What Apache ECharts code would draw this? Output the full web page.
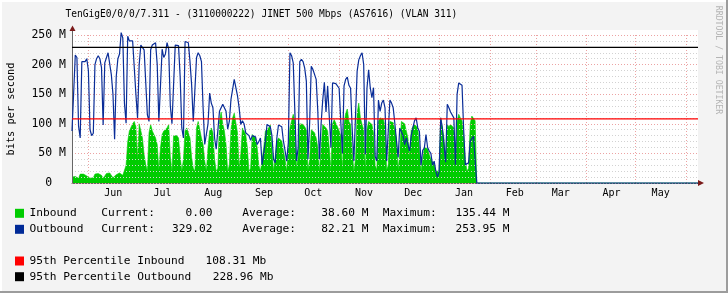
<!DOCTYPE html>
<html><head><meta charset="utf-8">
<script src="https://cdn.jsdelivr.net/npm/echarts@6/dist/echarts.min.js"></script>
<style>html,body{margin:0;padding:0;background:#f3f3f3}#c{width:728px;height:293px}</style>
</head><body><div id="c"></div>
<script>
// ---- data (Mbit/s, one value per day starting at startDate) ----
const startDate = '2022-05-22';
const endDate = '2023-06-08';
const monthStarts = ['2022-06-01','2022-07-01','2022-08-01','2022-09-01','2022-10-01','2022-11-01','2022-12-01','2023-01-01','2023-02-01','2023-03-01','2023-04-01','2023-05-01','2023-06-01'];
const monthLabels = ['Jan','Feb','Mar','Apr','May','Jun','Jul','Aug','Sep','Oct','Nov','Dec'];
const yTicks = [0, 50, 100, 150, 200, 250];
const inbound = [
10,11,11,12,8,15,17,15,14,12,
9,8,7,9,15,17,16,15,13,8,
12,16,15,17,13,9,8,14,16,17,
16,13,10,30,70,88,85,100,104,95,
40,100,99,76,48,31,20,85,99,88,
82,76,65,22,60,82,88,88,93,99,
45,20,80,82,80,76,45,20,40,88,
93,90,76,43,25,20,93,104,90,76,
65,37,20,60,88,93,85,40,20,25,
104,120,100,88,65,20,30,90,110,118,
115,85,25,50,93,88,82,60,20,25,
82,80,76,60,30,20,20,60,88,90,
93,98,60,20,20,70,76,74,71,55,
40,20,60,93,105,116,104,25,45,100,
98,99,95,90,22,40,90,88,85,76,
60,20,60,99,102,93,88,60,22,100,
107,104,95,88,80,22,100,118,125,104,
99,55,20,40,118,135,110,99,90,22,
90,104,102,99,85,30,22,104,110,112,
108,95,22,30,104,105,102,90,76,22,
50,104,104,100,88,76,45,90,95,99,
97,93,60,20,40,60,62,58,48,40,
37,31,20,18,20,110,93,76,35,99,
95,99,100,93,25,104,116,110,105,82,
40,20,25,100,113,110,105
];
const outbound = [
88,90,216,212,96,76,205,208,205,210,
190,90,80,84,200,210,215,210,195,98,
203,205,220,223,183,150,74,180,210,218,
254,245,135,101,248,240,242,240,238,150,
110,200,233,230,225,222,115,104,225,233,
235,237,200,104,104,226,212,218,237,226,
130,100,100,233,233,232,180,93,76,239,
239,237,205,166,104,104,212,220,215,205,
127,65,62,100,152,135,127,76,57,60,
121,124,133,127,121,91,104,141,138,175,
175,147,127,99,105,100,85,82,80,72,
80,80,78,65,70,76,31,50,71,99,
101,95,80,40,34,76,98,100,95,71,
55,37,68,220,215,203,200,37,60,205,
209,205,194,172,40,100,197,192,189,175,
121,40,100,140,170,120,164,164,60,169,
169,168,166,160,157,50,164,175,179,165,
160,90,37,40,189,208,215,220,200,48,
160,191,161,144,161,45,37,140,121,135,
140,127,37,40,140,135,127,101,71,43,
93,93,80,65,76,65,54,80,93,105,
110,93,87,30,55,59,82,60,54,50,
30,37,20,10,18,110,93,65,35,133,
127,120,121,110,31,150,169,169,165,90,
31,31,34,71,75,79,82
];
// after the interface went quiet: values at these day offsets
const tailDays = [247, 382];
const tailInbound = [0, 0];
const tailOutbound = [0, 0];
const pct95In = 108.31;
const pct95Out = 228.96;

// ---- build ----
const DAY = 86400000;
function t(s){ const p = s.split('-').map(Number); return Date.UTC(p[0], p[1]-1, p[2]); }
const T0 = t(startDate), T1 = t(endDate);
function build(vals, tv){
  const out = vals.map((v,i)=>[T0 + i*DAY, v]);
  tailDays.forEach((d,k)=>out.push([T0 + d*DAY, tv[k]]));
  return out;
}
const SHIFT = 15.2*DAY;
const FONT = 'DejaVu Sans Mono';
const chart = echarts.init(document.getElementById('c'), null, {renderer:'canvas'});

function txt(text, x, y, opt){
  return {type:'text', z: 10, style: Object.assign({text, x, y, fill:'#000', font: '11.2px "DejaVu Sans Mono"', verticalAlign:'middle', align:'left'}, opt||{})};
}
function box(y, color){ return {type:'rect', z:10, shape:{x:15, y:y-4.5, width:9, height:9}, style:{fill:color}}; }
const r1 = 213.3, r2 = 229.3, r3 = 261, r4 = 276.7;
const graphics = [
  {type:'rect', z:0, shape:{x:72, y:30, width:626, height:6}, style:{fill:'#fff'}},
  {type:'rect', z:10, shape:{x:0, y:0, width:728, height:2}, style:{fill:'#ffffff'}},
  {type:'rect', z:10, shape:{x:0, y:0, width:2, height:293}, style:{fill:'#ffffff'}},
  {type:'rect', z:10, shape:{x:726, y:0, width:2, height:293}, style:{fill:'#9c9c9c'}},
  {type:'rect', z:10, shape:{x:0, y:291, width:728, height:2}, style:{fill:'#9c9c9c'}},
  {type:'line', z:10, shape:{x1:72.5, y1:36, x2:72.5, y2:30}, style:{stroke:'#666', lineWidth:1}},
  {type:'polygon', z:10, shape:{points:[[69.5,31],[75.5,31],[72.5,25.5]]}, style:{fill:'#7a1a1a'}},
  {type:'polygon', z:10, shape:{points:[[698,180],[698,186],[704,183]]}, style:{fill:'#7a1a1a'}},
  {type:'text', z:10, x:65.5, y:14.3, scaleX:0.87, style:{text:'TenGigE0/0/0/7.311 - (3110000222) JINET 500 Mbps (AS7616) (VLAN 311)', x:0, y:0, fill:'#000', font:'11px "DejaVu Sans Mono"', verticalAlign:'middle', align:'left'}},
  {type:'text', z:10, x:718.3, y:60, rotation:-Math.PI/2, style:{text:'RRDTOOL / TOBI OETIKER', x:0, y:0, align:'center', verticalAlign:'middle', fill:'#b4b4b4', font:'8.2px "DejaVu Sans Mono"'}},
  box(r1, '#00cc00'), box(r2, '#002a97'), box(r3, '#ff0000'), box(r4, '#000000'),
  txt('Inbound', 29.5, r1), txt('Current:', 101.2, r1), txt('0.00', 212.5, r1, {align:'right'}),
  txt('Average:', 242.2, r1), txt('38.60 M', 368.5, r1, {align:'right'}),
  txt('Maximum:', 382.8, r1), txt('135.44 M', 509.5, r1, {align:'right'}),
  txt('Outbound', 29.5, r2), txt('Current:', 101.2, r2), txt('329.02', 212.5, r2, {align:'right'}),
  txt('Average:', 242.2, r2), txt('82.21 M', 368.5, r2, {align:'right'}),
  txt('Maximum:', 382.8, r2), txt('253.95 M', 509.5, r2, {align:'right'}),
  txt('95th Percentile Inbound', 29.5, r3), txt('108.31 Mb', 205.5, r3),
  txt('95th Percentile Outbound', 29.5, r4), txt('228.96 Mb', 212.8, r4)
];

const option = {
  animation: false,
  useUTC: true,
  backgroundColor: '#f3f3f3',
  grid: {left:72, right:30, top:35, bottom:110, show:true, backgroundColor:'#ffffff', borderWidth:0, containLabel:false, outerBoundsMode:'none'},
  xAxis: [
    {type:'time', min:T0, max:T1, axisLabel:{show:false}, axisTick:{show:false}, splitLine:{show:false},
     axisLine:{show:true, lineStyle:{color:'#666', width:1}}},
    {type:'time', min:T0-SHIFT, max:T1-SHIFT, position:'bottom', splitNumber:12, minInterval:28*DAY, maxInterval:31*DAY,
     axisLine:{show:false}, axisTick:{show:false}, splitLine:{show:false},
     axisLabel:{show:true, margin:5, color:'#000', fontFamily:FONT, fontSize:10,
       formatter:function(v){ const d=new Date(v); if(d.getUTCDate()!==1||d.getUTCHours()!==0) return ''; return monthLabels[d.getUTCMonth()]; }}}
  ],
  yAxis: {type:'value', min:0, max:250, interval:50, z:2,
    name:'bits per second', nameLocation:'middle', nameGap:56, nameRotate:90,
    nameTextStyle:{fontFamily:FONT, fontSize:10.3, color:'#000'},
    axisLine:{show:true, lineStyle:{color:'#666'}}, axisTick:{show:false},
    axisLabel:{margin:6, color:'#000', fontFamily:FONT, fontSize:11.5,
      formatter:function(v){ return v===0 ? '0  ' : v + ' M'; }},
    splitLine:{show:true, lineStyle:{color:'#eca3a3', width:1, type:[1,2]}},
    minorTick:{show:false, splitNumber:5},
    minorSplitLine:{show:true, lineStyle:{color:'#d2d2d2', width:1, type:[1,2]}}
  },
  graphic: graphics,
  series: [
    {name:'Inbound', type:'line', xAxisIndex:0, z:1, data:build(inbound, tailInbound), symbol:'none', clip:false,
     lineStyle:{width:0.6, color:'#00cc00'}, areaStyle:{color:'#00cc00', opacity:1},
     markLine:{silent:true, symbol:'none', z:1, label:{show:false},
       lineStyle:{color:'#eca3a3', width:1, type:[1,2]},
       data: monthStarts.map(s=>({xAxis:t(s)}))}},
    {name:'Outbound', type:'line', xAxisIndex:0, z:3, data:build(outbound, tailOutbound), symbol:'none', clip:false,
     lineStyle:{width:1.2, color:'#0a2d98'}},
    {name:'95th Percentile Inbound', type:'line', xAxisIndex:0, z:4, symbol:'none', silent:true,
     data:[[T0, pct95In],[T1, pct95In]], lineStyle:{color:'#ff0000', width:1.4}},
    {name:'95th Percentile Outbound', type:'line', xAxisIndex:0, z:4, symbol:'none', silent:true,
     data:[[T0, pct95Out],[T1, pct95Out]], lineStyle:{color:'#000000', width:1.3}}
  ]
};
chart.setOption(option);
</script>
</body></html>
